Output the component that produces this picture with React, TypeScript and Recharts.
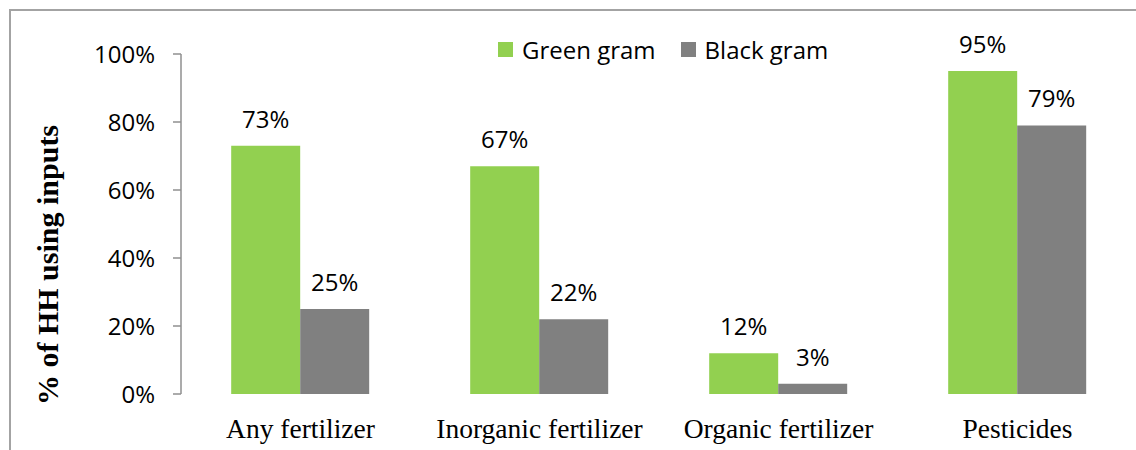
import { Bar, BarChart, LabelList, Legend, XAxis, YAxis } from "recharts";

const categories = ["Any fertilizer", "Inorganic fertilizer", "Organic fertilizer", "Pesticides"];
const greenGram = [73, 67, 12, 95];
const blackGram = [25, 22, 3, 79];
const yTicks = [0, 20, 40, 60, 80, 100];
const categoryEdges = [0, 1, 2, 3, 4];
const seriesOrder = ["green", "black"];

const data = categories.map((name, i) => ({
  name,
  green: greenGram[i],
  black: blackGram[i],
}));

const AXIS = "#8f8f8f";
const SANS = "'Open Sans', 'Noto Sans', sans-serif";
const SERIF = "'Liberation Serif', 'DejaVu Serif', serif";

function LegendRow({ payload }: { payload?: any[] }) {
  const items = [...(payload || [])].sort(
    (a, b) => seriesOrder.indexOf(a.dataKey) - seriesOrder.indexOf(b.dataKey)
  );
  return (
    <div style={{ display: "flex", alignItems: "center", fontFamily: SANS, fontSize: 24, color: "#000", whiteSpace: "nowrap" }}>
      {items.map((p, i) => (
        <span key={p.value} style={{ display: "flex", alignItems: "center", marginLeft: i === 0 ? 0 : 25 }}>
          <span style={{ width: 15, height: 15, background: p.color, marginRight: 9, display: "inline-block" }} />
          {p.value}
        </span>
      ))}
    </div>
  );
}

export default function App() {
  return (
    <div style={{ position: "absolute", left: 0, top: 0, width: 1136, height: 450, overflow: "hidden", background: "#fff" }}>
      <div
        style={{
          position: "absolute",
          left: 9,
          top: 9,
          width: 1200,
          height: 500,
          borderLeft: "2px solid #a3a3a3",
          borderTop: "2px solid #a3a3a3",
        }}
      />
      <BarChart
        width={1138}
        height={450}
        data={data}
        margin={{ top: 54, right: 1, bottom: 0, left: 0 }}
        barCategoryGap="21%"
        barGap={0}
        style={{ position: "absolute", left: 0, top: 0 }}
      >
        <XAxis
          xAxisId="edges"
          type="number"
          domain={[0, 4]}
          ticks={categoryEdges}
          tick={false}
          height={0}
          tickSize={8}
          axisLine={{ stroke: AXIS, strokeWidth: 1.5 }}
          tickLine={{ stroke: AXIS, strokeWidth: 1.5 }}
        />
        <XAxis
          xAxisId="cat"
          dataKey="name"
          height={56}
          axisLine={false}
          tickLine={false}
          tickSize={0}
          tickMargin={24}
          interval={0}
          tick={{ fontFamily: SERIF, fontSize: 27.5, fill: "#000" }}
        />
        <YAxis
          width={181}
          domain={[0, 100]}
          ticks={yTicks}
          tickFormatter={(v: number) => `${v}%`}
          tickSize={8}
          tickMargin={18}
          axisLine={{ stroke: AXIS, strokeWidth: 1.5 }}
          tickLine={{ stroke: AXIS, strokeWidth: 1.5 }}
          tick={{ fontFamily: SANS, fontSize: 24, fill: "#000" }}
          label={{
            value: "% of HH using inputs",
            angle: -90,
            position: "center",
            dx: -43,
            dy: 41,
            style: { fontFamily: SERIF, fontSize: 30, fontWeight: "bold", fill: "#000" },
          }}
        />
        <Legend
          layout="horizontal"
          verticalAlign="middle"
          align="center"
          content={<LegendRow />}
          wrapperStyle={{ position: "absolute", top: 33, left: 498, width: "auto" }}
        />
        <Bar xAxisId="cat" dataKey="green" name="Green gram" fill="#92d050" isAnimationActive={false}>
          <LabelList
            dataKey="green"
            position="top"
            offset={18}
            formatter={(v: any) => `${v}%`}
            style={{ fontFamily: SANS, fontSize: 24, fill: "#000" }}
          />
        </Bar>
        <Bar xAxisId="cat" dataKey="black" name="Black gram" fill="#808080" isAnimationActive={false}>
          <LabelList
            dataKey="black"
            position="top"
            offset={18}
            formatter={(v: any) => `${v}%`}
            style={{ fontFamily: SANS, fontSize: 24, fill: "#000" }}
          />
        </Bar>
      </BarChart>
    </div>
  );
}
